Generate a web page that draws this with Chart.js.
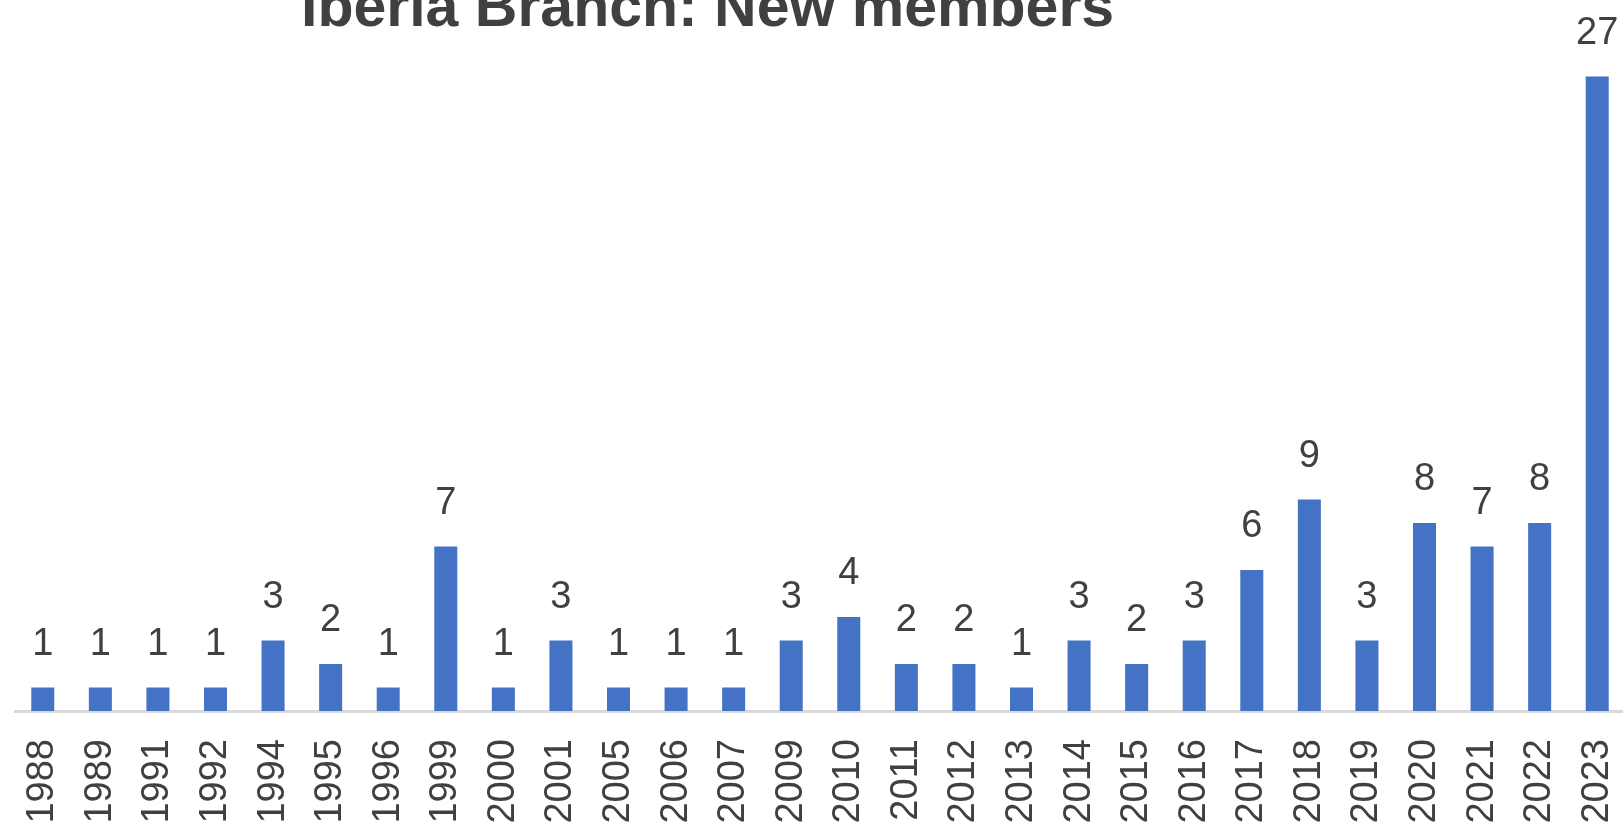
<!DOCTYPE html>
<html>
<head>
<meta charset="utf-8">
<script src="https://cdn.jsdelivr.net/npm/chart.js@4"></script>
<style>
  html, body { margin: 0; padding: 0; overflow: hidden; background: #fff; width: 1623px; height: 825px; }
  #title {
    position: absolute; left: 301px; top: -23px;
    font: bold 59px "Liberation Sans", Arial, sans-serif; line-height: 59px;
    color: #404040; white-space: nowrap;
  }
  #wrap { position: absolute; left: 14px; top: 0; width: 1612px; height: 861px; }
</style>
</head>
<body>
<div id="title">Iberia Branch: New members</div>
<div id="wrap"><canvas id="chart" width="1612" height="861"></canvas></div>
<script>
const years = ['1988', '1989', '1991', '1992', '1994', '1995', '1996', '1999', '2000', '2001',
  '2005', '2006', '2007', '2009', '2010', '2011', '2012', '2013', '2014', '2015',
  '2016', '2017', '2018', '2019', '2020', '2021', '2022', '2023'];
const newMembers = [1, 1, 1, 1, 3, 2, 1, 7, 1, 3,
  1, 1, 1, 3, 4, 2, 2, 1, 3, 2,
  3, 6, 9, 3, 8, 7, 8, 27];

const textColor = '#404040';

// value labels above each bar
const barLabels = {
  id: 'barLabels',
  afterDatasetsDraw(chart) {
    const ctx = chart.ctx;
    const meta = chart.getDatasetMeta(0);
    ctx.save();
    ctx.font = '38px "Liberation Sans", Arial, sans-serif';
    ctx.fillStyle = textColor;
    ctx.textAlign = 'center';
    ctx.textBaseline = 'alphabetic';
    meta.data.forEach((bar, i) => {
      ctx.fillText(String(chart.data.datasets[0].data[i]), bar.x, bar.y - 33);
    });
    ctx.restore();
  }
};

new Chart(document.getElementById('chart'), {
  type: 'bar',
  data: {
    labels: years,
    datasets: [{
      data: newMembers,
      backgroundColor: '#4472C4',
      categoryPercentage: 1,
      barPercentage: 0.4,
    }],
  },
  options: {
    responsive: false,
    animation: false,
    layout: { padding: { top: 53, left: 0, right: 0, bottom: 0 } },
    plugins: {
      legend: { display: false },
      tooltip: { enabled: false },
    },
    scales: {
      x: {
        offset: true,
        grid: { display: false, drawTicks: false },
        border: { display: true, color: '#d9d9d9', width: 3 },
        ticks: {
          autoSkip: false, maxRotation: 90, minRotation: 90,
          padding: 28, color: textColor,
          font: { family: '"Liberation Sans", Arial, sans-serif', size: 38 },
        },
        afterFit: axis => {
          axis.height = 150;
          axis.paddingLeft = 0;
          axis.paddingRight = 0;
        },
      },
      y: {
        display: false,
        min: 0,
        max: 28,
      },
    },
  },
  plugins: [barLabels],
});
</script>
</body>
</html>
